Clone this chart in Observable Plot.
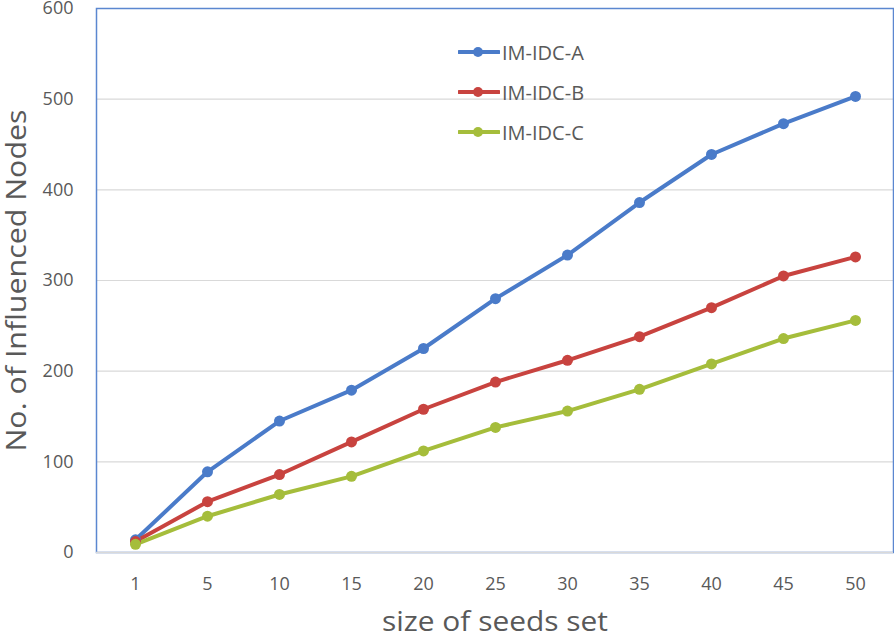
<!DOCTYPE html>
<html>
<head>
<meta charset="utf-8">
<script src="https://cdn.jsdelivr.net/npm/d3@7"></script>
<script src="https://cdn.jsdelivr.net/npm/@observablehq/plot@0.6"></script>
<style>
  html, body { margin: 0; padding: 0; background: #fff; }
  #wrap { position: relative; width: 894px; height: 636px; font-family: "Open Sans", sans-serif; }
  #wrap > svg { overflow: visible; }
  #legend { position: absolute; left: 458px; top: 32px; }
  .lg { display: flex; align-items: center; height: 40px; font-size: 20px; color: #595959; }
  .lg svg { margin-right: 2px; }
</style>
</head>
<body>
<div id="wrap"><div id="legend"></div></div>
<script>
const seeds = ["1", "5", "10", "15", "20", "25", "30", "35", "40", "45", "50"];
const seriesNames = ["IM-IDC-A", "IM-IDC-B", "IM-IDC-C"];
const valuesA = [14, 89, 145, 179, 225, 280, 328, 386, 439, 473, 503];
const valuesB = [12, 56, 86, 122, 158, 188, 212, 238, 270, 305, 326];
const valuesC = [9, 40, 64, 84, 112, 138, 156, 180, 208, 236, 256];
const yTicks = [0, 100, 200, 300, 400, 500, 600];
const colors = ["#4a7bc9", "#c8433f", "#a5bd3b"];

const allValues = [valuesA, valuesB, valuesC];
const data = [];
seriesNames.forEach((s, i) => seeds.forEach((k, j) => data.push({series: s, seed: k, value: allValues[i][j]})));

const textColor = "#595959";
const font = "Open Sans, sans-serif";

const chart = Plot.plot({
  width: 894,
  height: 636,
  marginLeft: 96,
  marginRight: 1,
  marginTop: 8,
  marginBottom: 84,
  style: {fontFamily: font, color: textColor, background: "#fff"},
  x: {type: "point", domain: seeds, padding: 0.5},
  y: {domain: [0, 600]},
  color: {domain: seriesNames, range: colors},
  marks: [
    Plot.gridY(yTicks.filter(d => d > 0 && d < 600), {stroke: "#d9d9d9", strokeOpacity: 1, strokeWidth: 1.2}),
    Plot.frame({stroke: "#5b87d0", strokeWidth: 1.5}),
    Plot.ruleY([0], {stroke: "#d9d9d9", strokeWidth: 1.5}),
    Plot.axisY(yTicks, {tickSize: 0, tickPadding: 23, fontSize: 18, fill: textColor, label: null}),
    Plot.axisX(seeds, {tickSize: 0, tickPadding: 25, fontSize: 18, fill: textColor, label: null}),
    Plot.line(data, {x: "seed", y: "value", stroke: "series", strokeWidth: 4}),
    Plot.dot(data, {x: "seed", y: "value", fill: "series", r: 5.5}),
    Plot.text(["No. of Influenced Nodes"], {frameAnchor: "left", textAnchor: "middle", lineAnchor: "middle", dx: -79, rotate: -90, fontSize: 28, fill: textColor, className: "ytitle"}),
    Plot.text(["size of seeds set"], {frameAnchor: "bottom", textAnchor: "middle", lineAnchor: "middle", dy: 70, fontSize: 28, fill: textColor, className: "xtitle"})
  ]
});
document.getElementById("wrap").prepend(chart);

// match title lengths of the reference
const yt = chart.querySelector(".ytitle text");
if (yt) { yt.setAttribute("textLength", 342); yt.setAttribute("lengthAdjust", "spacingAndGlyphs"); }
const xt = chart.querySelector(".xtitle text");
if (xt) { xt.setAttribute("textLength", 226); xt.setAttribute("lengthAdjust", "spacingAndGlyphs"); }

const legend = document.getElementById("legend");
seriesNames.forEach((s, i) => {
  const row = document.createElement("div");
  row.className = "lg";
  row.innerHTML = `<svg width="42" height="12"><line x1="1" y1="6" x2="41" y2="6" stroke="${colors[i]}" stroke-width="4" stroke-linecap="round"/><circle cx="20" cy="6" r="5" fill="${colors[i]}"/></svg><span>${s}</span>`;
  legend.appendChild(row);
});
</script>
</body>
</html>
